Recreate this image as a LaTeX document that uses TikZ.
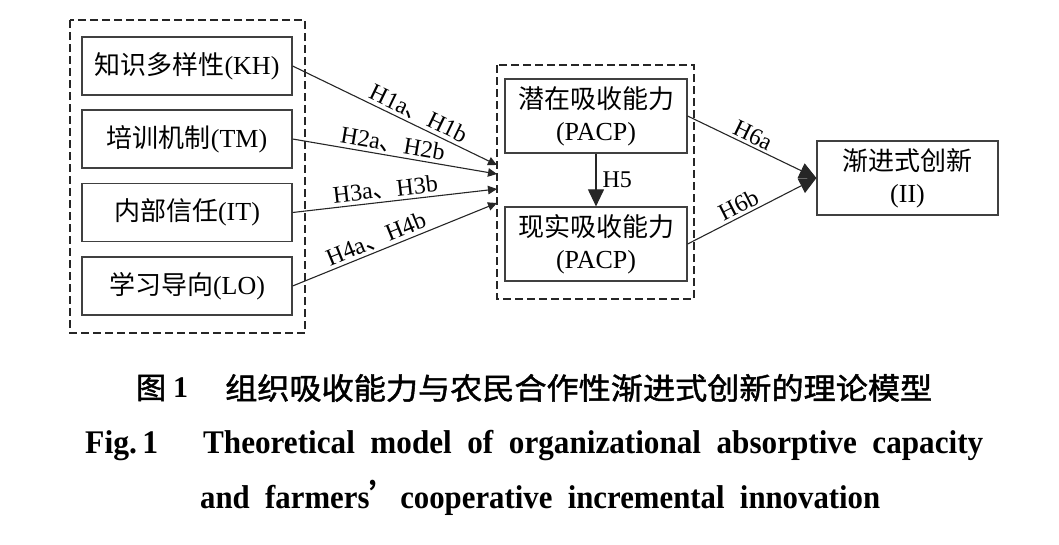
\documentclass[tikz,border=0pt]{standalone}
\usepackage{graphicx}
\usepackage{fontspec}
\setmainfont{Liberation Serif}
\newfontfamily\cjk{Noto Sans CJK SC}
\newfontfamily\cjkb{Noto Sans CJK SC}[FakeBold=1.5]
\usetikzlibrary{arrows.meta}
\begin{document}
\begin{tikzpicture}[x=1pt,y=-1pt,
  box/.style={draw=black!75, line width=1.2pt, minimum width=210pt, minimum height=58pt, inner sep=0pt, font=\fontsize{26}{32}\selectfont, align=center},
  cbox/.style={box, minimum width=182pt, minimum height=74pt},
  dbox/.style={draw=black!85, line width=1.5pt, dash pattern=on 8pt off 4pt},
  arr/.style={draw=black!85, line width=1.1pt, -{Triangle[length=9pt,width=8.5pt]}},
  bigarr/.style={draw=black!85, line width=1.1pt, -{Triangle[length=17pt,width=16pt]}},
  lab/.style={sloped, above, inner sep=2.5pt, font=\fontsize{24}{24}\selectfont},
]
\useasboundingbox (0,0) rectangle (1059,544);
% dashed groups
\draw[dbox] (70,20) rectangle (305,333);
\draw[dbox] (497,65) rectangle (694,299);
% left boxes
\node[box] (kh) at (187,66) {{\cjk 知识多样性}(KH)};
\node[box] (tm) at (187,139) {{\cjk 培训机制}(TM)};
\node[box] (it) at (187,212.5) {{\cjk 内部信任}(IT)};
\node[box] (lo) at (187,286) {{\cjk 学习导向}(LO)};
% middle boxes
\node[cbox] (pacp) at (596,116) {{\cjk 潜在吸收能力}\\(PACP)};
\node[cbox] (racp) at (596,244) {{\cjk 现实吸收能力}\\(PACP)};
% right box
\node[cbox, minimum width=181pt] (ii) at (907.5,178) {{\cjk 渐进式创新}\\(II)};
% arrow end points
\coordinate (t1) at (497,165);
\coordinate (t2) at (497,174);
\coordinate (t3) at (497,189);
\coordinate (t4) at (497,203);
\draw[arr] (kh.east) -- node[lab, pos=0.59] {H1a{\cjk 、}H1b} (t1);
\draw[arr] (tm.east) -- node[lab, pos=0.48] {H2a{\cjk 、}H2b} (t2);
\draw[arr] (it.east) -- node[lab, pos=0.46] {H3a{\cjk 、}H3b} (t3);
\draw[arr] (lo.east) -- node[lab, pos=0.43] {H4a{\cjk 、}H4b} (t4);
\draw[bigarr] (pacp.south) -- node[right, inner sep=6pt, font=\fontsize{24}{24}\selectfont] {H5} (racp.north);
\draw[bigarr] (pacp.east) -- node[lab, pos=0.47] {H6a} (ii.west);
\draw[bigarr] (racp.east) -- node[lab, pos=0.435] {H6b} (ii.west);
% captions
\node[anchor=west, inner sep=0pt, font=\cjkb\fontsize{30}{30}\selectfont] (c1a) at (136,388) {图};
\node[anchor=west, inner sep=0pt, font=\bfseries\fontsize{30}{30}\selectfont] (c1b) at (173,388) {1};
\node[anchor=west, inner sep=0pt] (c1c) at (225,388) {\resizebox{707pt}{\height}{\cjkb\fontsize{30}{30}\selectfont 组织吸收能力与农民合作性渐进式创新的理论模型}};
\node[anchor=base west, inner sep=0pt] (c2a) at (85,453) {\resizebox{73pt}{\height}{\bfseries\fontsize{33}{33}\selectfont Fig.\,1}};
\node[anchor=base west, inner sep=0pt] (c2b) at (203,453) {\resizebox{780pt}{\height}{\bfseries\fontsize{33}{33}\selectfont Theoretical\ \ model\ \ of\ \ organizational\ \ absorptive\ \ capacity}};
\node[anchor=base west, inner sep=0pt] (c3) at (200,508) {\resizebox{680pt}{\height}{\bfseries\fontsize{33}{33}\selectfont and\ \ farmers{\cjk ’}cooperative\ \ incremental\ \ innovation}};
\end{tikzpicture}
\end{document}
